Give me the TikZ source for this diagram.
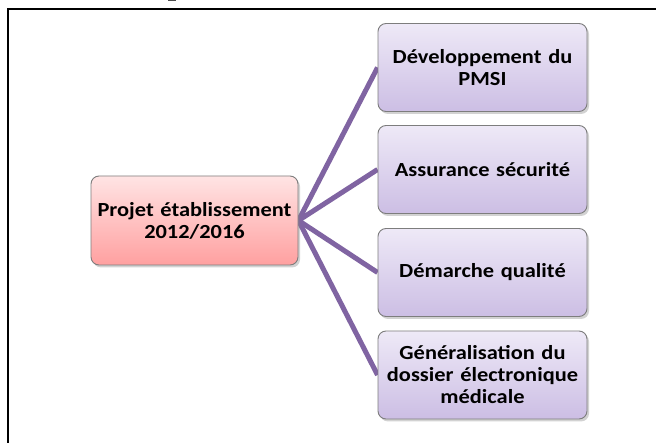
\documentclass[tikz,border=0pt]{standalone}
\usepackage{fontspec}
\setmainfont{Carlito}
\newfontfamily\boxfont{Carlito}[FakeStretch=1.12]
\usetikzlibrary{shadows,backgrounds}

\definecolor{linkpurple}{RGB}{128,100,162}
\definecolor{purpletop}{RGB}{238,233,247}
\definecolor{purplebot}{RGB}{204,190,228}
\definecolor{pinktop}{RGB}{255,228,228}
\definecolor{pinkbot}{RGB}{255,160,160}
\definecolor{boxedge}{RGB}{125,125,125}

\tikzset{
  basebox/.style={rounded corners=8pt, draw=boxedge, line width=0.9pt,
    align=center, inner sep=0pt,
    font=\boxfont\fontsize{20}{22}\selectfont\bfseries,
    drop shadow={opacity=0.35, shadow xshift=2pt, shadow yshift=-2.5pt}},
  topicbox/.style={basebox, top color=purpletop, bottom color=purplebot,
    minimum width=209pt, minimum height=88pt, text width=206pt},
  rootbox/.style={basebox, top color=pinktop, bottom color=pinkbot,
    minimum width=207pt, minimum height=89pt, text width=206pt},
  link/.style={draw=linkpurple, line width=5pt},
  frameline/.style={draw=black, line width=2pt}
}

\begin{document}
\begin{tikzpicture}[x=1pt, y=-1pt]
  \useasboundingbox (0,0) rectangle (656,443);

  % outer frame (left and top sides) and the fragment above it
  \draw[frameline] (8,443) -- (8,9) -- (656,9);
  \fill[black!70] (168,0) rectangle (176,1.5);

  % root and topic boxes
  \node[rootbox]  (root) at (194.5,220.5) {Projet établissement\\2012/2016};
  \node[topicbox] (pmsi) at (482.5,67.5)  {Développement du\\PMSI};
  \node[topicbox] (secu) at (482.5,169.5) {Assurance sécurité};
  \node[topicbox] (qual) at (482.5,272.5) {Démarche qualité};
  \node[topicbox] (dossier) at (482.5,375) {Généralisation du\\dossier électronique\\médicale};

  % white page and connectors, behind the boxes
  \begin{scope}[on background layer]
    \fill[white] (0,0) rectangle (656,443);
    \draw[link] (root.east) -- (pmsi.west);
    \draw[link] (root.east) -- (secu.west);
    \draw[link] (root.east) -- (qual.west);
    \draw[link] (root.east) -- (dossier.west);
  \end{scope}
\end{tikzpicture}
\end{document}
